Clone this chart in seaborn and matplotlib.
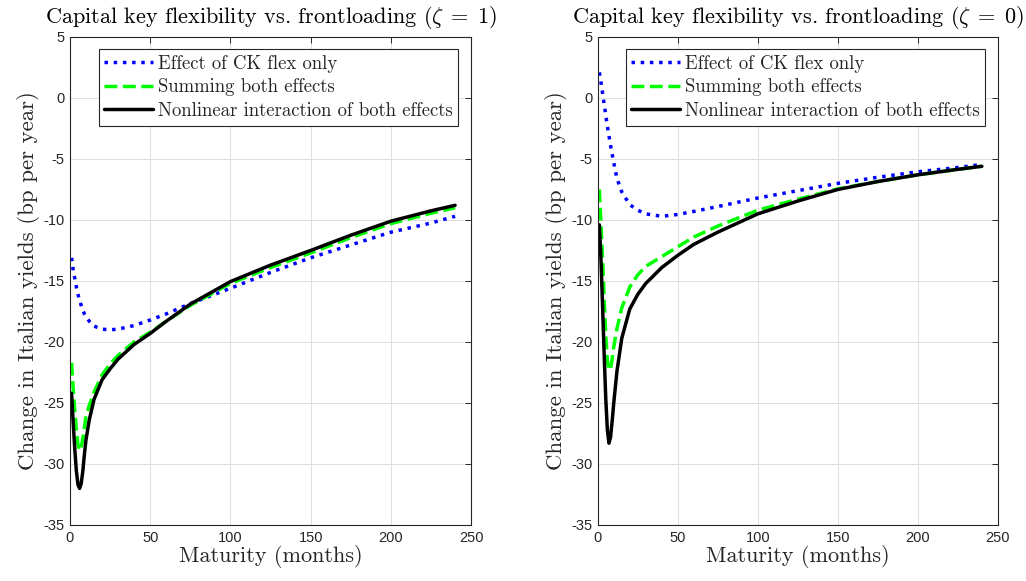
import matplotlib
matplotlib.use("Agg")
import matplotlib.pyplot as plt
import seaborn as sns

# maturities in months
maturity = [1, 2, 3, 4, 5, 6, 7, 8, 9, 10, 12, 15, 20, 25, 30, 40, 50, 60, 75,
            100, 125, 150, 175, 200, 225, 240]

# zeta = 1 panel
ck_only_z1 = [-13.1, -14.1, -14.8, -15.5, -16.1, -16.6, -17.0, -17.4, -17.7, -17.9,
              -18.3, -18.7, -18.95, -19.0, -18.95, -18.65, -18.2, -17.7, -16.85,
              -15.6, -14.3, -13.1, -12.05, -11.0, -10.25, -9.7]
summing_z1 = [-21.7, -23.8, -25.6, -27.2, -28.4, -28.9, -28.6, -27.9, -27.0, -26.1,
              -25.2, -24.1, -22.7, -21.8, -21.1, -20.0, -19.2, -18.3, -17.0,
              -15.2, -13.9, -12.7, -11.45, -10.3, -9.45, -9.0]
nonlinear_z1 = [-24.2, -26.6, -28.8, -30.6, -31.7, -32.0, -31.6, -30.6, -29.2, -28.0,
                -26.4, -24.7, -23.1, -22.2, -21.4, -20.2, -19.3, -18.3, -16.9,
                -15.05, -13.7, -12.5, -11.25, -10.1, -9.25, -8.8]

# zeta = 0 panel
ck_only_z0 = [2.1, 1.3, 0.4, -0.5, -1.4, -2.3, -3.1, -3.9, -4.6, -5.3,
              -6.6, -7.7, -8.75, -9.2, -9.5, -9.7, -9.55, -9.3, -8.9,
              -8.2, -7.6, -7.0, -6.5, -6.05, -5.7, -5.45]
summing_z0 = [-7.5, -10.2, -13.2, -16.4, -19.4, -21.5, -22.3, -22.2, -21.4, -20.4,
              -18.9, -17.2, -15.5, -14.5, -13.8, -13.0, -12.2, -11.4, -10.5,
              -9.2, -8.3, -7.45, -6.85, -6.3, -5.85, -5.6]
nonlinear_z0 = [-10.4, -13.2, -17.0, -21.0, -24.6, -27.2, -28.3, -27.8, -26.5, -25.0,
                -22.4, -19.7, -17.3, -16.1, -15.2, -13.9, -12.9, -12.0, -11.0,
                -9.5, -8.45, -7.5, -6.85, -6.3, -5.85, -5.6]

labels = ["Effect of CK flex only", "Summing both effects",
          "Nonlinear interaction of both effects"]
titles = [r"Capital key flexibility vs. frontloading ($\zeta\;=\;1$)",
          r"Capital key flexibility vs. frontloading ($\zeta\;=\;0$)"]

sns.set_style("whitegrid")
plt.rcParams["mathtext.fontset"] = "cm"
plt.rcParams["axes.unicode_minus"] = False
plt.rcParams["font.family"] = ["Liberation Sans", "DejaVu Sans"]

serif = "cmr10"

fig = plt.figure(figsize=(10.26, 5.81), dpi=100)
ax1 = fig.add_axes([0.0682, 0.0964, 0.391, 0.840])
ax2 = fig.add_axes([0.5826, 0.0964, 0.390, 0.840])

panels = [(ax1, ck_only_z1, summing_z1, nonlinear_z1, titles[0]),
          (ax2, ck_only_z0, summing_z0, nonlinear_z0, titles[1])]

for ax, blue, green, black, title in panels:
    sns.lineplot(x=maturity, y=blue, ax=ax, color=(0, 0, 1), linestyle=":",
                 linewidth=2.5, label=labels[0])
    sns.lineplot(x=maturity, y=green, ax=ax, color=(0, 1, 0), linestyle="--",
                 linewidth=2.5, label=labels[1])
    sns.lineplot(x=maturity, y=black, ax=ax, color="black", linestyle="-",
                 linewidth=2.5, label=labels[2])

    ax.set_xlim(0, 250)
    ax.set_ylim(-35, 5)
    ax.set_xticks(range(0, 251, 50))
    ax.set_yticks(range(-35, 6, 5))
    ax.grid(True, color="#dedede", linewidth=0.7)
    for s in ax.spines.values():
        s.set_color("#262626")
        s.set_linewidth(0.8)
    ax.tick_params(direction="in", top=True, right=True, length=4,
                   width=0.7, color="#262626", labelcolor="#262626",
                   labelsize=10.5, pad=4)

    ax.set_title(title, fontsize=16, family=serif, pad=10, color="black")
    ax.set_xlabel("Maturity (months)", fontsize=16, family=serif, labelpad=0)
    ax.set_ylabel("Change in Italian yields (bp per year)", fontsize=16.5,
                  family=serif, labelpad=2)

    leg = ax.legend(loc="upper right", bbox_to_anchor=(0.968, 0.975),
                    prop={"family": serif, "size": 13.5}, frameon=True,
                    fancybox=False, framealpha=1, edgecolor="#262626",
                    handlelength=2.6, handletextpad=0.25, labelspacing=0.3,
                    borderpad=0.3, borderaxespad=0.0)
    leg.get_frame().set_linewidth(0.8)

fig.savefig("out.png", dpi=100)
